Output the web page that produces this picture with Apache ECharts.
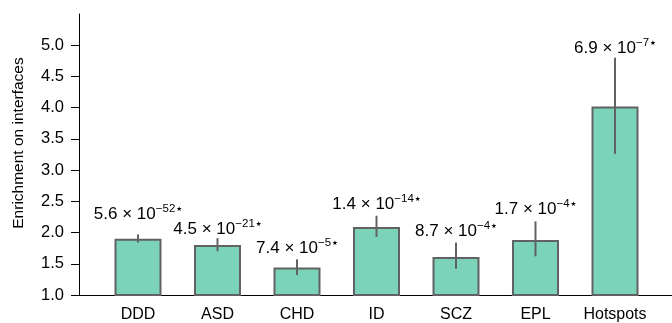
<!DOCTYPE html>
<html>
<head>
<meta charset="utf-8">
<script src="https://cdn.jsdelivr.net/npm/echarts@6/dist/echarts.min.js"></script>
<style>
html,body{margin:0;padding:0;background:#fff;}
#c{width:672px;height:323px;}
</style>
</head>
<body>
<div id="c"></div>
<script>
const categories = ['DDD', 'ASD', 'CHD', 'ID', 'SCZ', 'EPL', 'Hotspots'];
const enrichment = [1.90, 1.80, 1.44, 2.09, 1.61, 1.88, 4.02];
const errLow = [1.84, 1.70, 1.32, 1.93, 1.42, 1.62, 3.26];
const errHigh = [1.97, 1.91, 1.57, 2.27, 1.84, 2.18, 4.80];
const pMantissa = ['5.6', '4.5', '7.4', '1.4', '8.7', '1.7', '6.9'];
const pExponent = ['52', '21', '5', '14', '4', '4', '7'];
const pLabelAt = [2.33, 2.09, 1.79, 2.50, 2.06, 2.41, 4.99];
const yTicks = [1.0, 1.5, 2.0, 2.5, 3.0, 3.5, 4.0, 4.5, 5.0];

const FONT = '"Liberation Sans", Arial, Helvetica, sans-serif';
const xPos = categories.map((c, i) => i + 1);

const chart = echarts.init(document.getElementById('c'), null, {renderer: 'canvas'});
chart.setOption({
  animation: false,
  backgroundColor: '#fff',
  grid: {left: 79, right: 0, top: 14, bottom: 27},
  xAxis: {
    type: 'value',
    min: 0.258,
    max: 7.717,
    splitLine: {show: false},
    axisLine: {show: true, lineStyle: {color: '#000', width: 1}},
    axisTick: {show: false},
    axisLabel: {
      customValues: xPos,
      formatter: v => categories[Math.round(v) - 1] || '',
      color: '#000', fontFamily: FONT, fontSize: 16, margin: 12
    }
  },
  yAxis: {
    type: 'value',
    min: 1.0,
    max: 5.5,
    name: 'Enrichment on interfaces',
    nameLocation: 'middle',
    nameGap: 52,
    nameTextStyle: {color: '#000', fontFamily: FONT, fontSize: 15.5, padding: [0, 0, 0, 23]},
    splitLine: {show: false},
    axisLine: {show: true, lineStyle: {color: '#000', width: 1}},
    axisTick: {show: true, customValues: yTicks, length: 8, lineStyle: {color: '#000', width: 1}},
    axisLabel: {
      customValues: yTicks,
      formatter: v => v.toFixed(1),
      color: '#000', fontFamily: FONT, fontSize: 16.5, margin: 15
    }
  },
  series: [
    {
      type: 'bar',
      data: xPos.map((x, i) => [x, enrichment[i]]),
      barWidth: 47,
      itemStyle: {color: '#7bd3ba', borderColor: '#626262', borderWidth: 2}
    },
    {
      type: 'custom',
      data: xPos.map((x, i) => [x, errLow[i], errHigh[i], pLabelAt[i], i]),
      z: 5,
      renderItem: function (params, api) {
        const x = api.value(0);
        const lo = api.coord([x, api.value(1)]);
        const hi = api.coord([x, api.value(2)]);
        const lab = api.coord([x, api.value(3)]);
        const idx = api.value(4);
        return {
          type: 'group',
          children: [
            {
              type: 'line',
              shape: {x1: lo[0], y1: lo[1], x2: hi[0], y2: hi[1]},
              style: {stroke: '#626262', lineWidth: 2}
            },
            {
              type: 'text',
              x: lab[0],
              y: lab[1] + 11,
              style: {
                text: '{m|' + pMantissa[idx] + ' × 10}{e|−' + pExponent[idx] + '}{s|★}',
                align: 'center',
                verticalAlign: 'bottom',
                fill: '#000',
                rich: {
                  m: {fontFamily: FONT, fontSize: 17, lineHeight: 20, verticalAlign: 'bottom', fill: '#000'},
                  e: {fontFamily: FONT, fontSize: 11.5, lineHeight: 12, verticalAlign: 'top', fill: '#000', padding: [0, 0, 8, 0]},
                  s: {fontFamily: '"DejaVu Sans", sans-serif', fontSize: 6.5, lineHeight: 12, verticalAlign: 'top', fill: '#000', padding: [3, 0, 5, 1]}
                }
              }
            }
          ]
        };
      }
    }
  ]
});
</script>
</body>
</html>
